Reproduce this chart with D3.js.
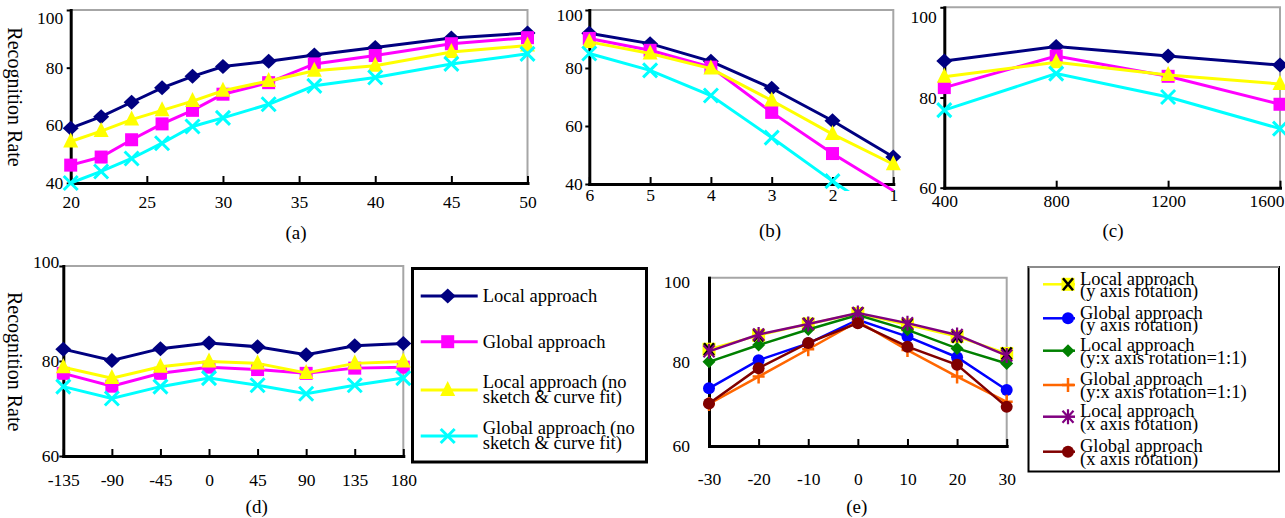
<!DOCTYPE html>
<html>
<head>
<meta charset="utf-8">
<script src="https://cdn.jsdelivr.net/npm/d3@7"></script>
<style>
  body { margin: 0; background: #fff; }
  svg { display: block; }
</style>
</head>
<body>
<div id="chart"></div>
<script>
// ---- data ----
// (a)
let aX = [20, 22, 24, 26, 28, 30, 33, 36, 40, 45, 50];
let aLocal = [59, 63, 68, 73, 77, 80.4, 82.2, 84.4, 87, 90.3, 92];
let aGlobal = [46.2, 49, 55, 60.5, 65.2, 70.8, 74.8, 81.3, 84.2, 88.3, 90.4];
let aLocalNo = [54.4, 58, 62, 65.2, 68.4, 72, 75.4, 78.9, 80.7, 85.4, 87.7];
let aGlobalNo = [40, 44, 48.5, 53.8, 59.6, 62.6, 67.3, 73.7, 76.6, 81.3, 84.8];
let aTicks = [20, 25, 30, 35, 40, 45, 50];
// (b)
let bX = [6, 5, 4, 3, 2, 1];
let bLocal = [92, 88.4, 82.3, 73, 61.8, 49.3];
let bGlobal = [90.2, 86.1, 80.3, 64.7, 50.5, 37.7];
let bLocalNo = [89, 85, 79.8, 68.8, 57.2, 46.8];
let bGlobalNo = [85, 79.2, 70.5, 56, 41, 27];
// (c)
let cX = [400, 800, 1200, 1600];
let cLocal = [88.1, 91.3, 89.2, 87.2];
let cGlobal = [82.2, 89.2, 84.7, 78.5];
let cLocalNo = [84.6, 87.8, 85.0, 83.0];
let cGlobalNo = [77.2, 85.3, 80.1, 73.1];
// (d)
let dX = [-135, -90, -45, 0, 45, 90, 135, 180];
let dLocal = [82.5, 80.1, 82.6, 83.8, 83.0, 81.3, 83.2, 83.7];
let dGlobal = [77.4, 74.7, 77.4, 78.7, 78.2, 77.4, 78.5, 78.7];
let dLocalNo = [78.7, 76.4, 78.8, 79.9, 79.5, 77.5, 79.5, 79.9];
let dGlobalNo = [74.6, 72.1, 74.6, 76.4, 74.9, 73.1, 74.9, 76.4];
// (e)
let eX = [-30, -20, -10, 0, 10, 20, 30];
let eLocalY = [83, 86.3, 89, 91.5, 88.8, 86, 82];
let eGlobalY = [73.7, 80.4, 84.4, 90, 86, 81.1, 73.3];
let eLocalYX = [80, 84, 87.7, 91.1, 87.6, 83.2, 79.6];
let eGlobalYX = [70, 76.5, 83, 89.6, 82.8, 76.5, 70.5];
let eLocalXr = [82.5, 86.5, 89, 91.6, 89.2, 86.4, 81.5];
let eGlobalXr = [70.1, 78.5, 84.5, 89.2, 83.6, 79.3, 69.3];

let yTicksAB = [40, 60, 80, 100];
let yTicksCDE = [60, 80, 100];

let legendD = [["Local approach"], ["Global approach"],
               ["Local approach (no", "sketch & curve fit)"],
               ["Global approach (no", "sketch & curve fit)"]];
let legendE = [["Local approach", "(y axis rotation)"], ["Global approach", "(y axis rotation)"],
               ["Local approach", "(y:x axis rotation=1:1)"], ["Global approach", "(y:x axis rotation=1:1)"],
               ["Local approach", "(x axis rotation)"], ["Global approach", "(x axis rotation)"]];

// ---- styles ----
const W = 1285, H = 518;
const font = "'Liberation Serif','Times New Roman',serif";
const styles4 = [
  {color: "#000080", mark: "diamond"},
  {color: "#ff00ff", mark: "square"},
  {color: "#ffff00", mark: "triangle"},
  {color: "#00ffff", mark: "x"}
];
const styles6 = [
  {color: "#ffff00", mark: "xbox"},
  {color: "#0000ff", mark: "circle"},
  {color: "#008000", mark: "diamondS"},
  {color: "#ff6600", mark: "plus"},
  {color: "#800080", mark: "star"},
  {color: "#800000", mark: "circle"}
];

let svg = d3.select("#chart").append("svg")
  .attr("width", W).attr("height", H)
  .style("background-color", "#fff");

function drawMarker(g, mark, color) {
  if (mark == "diamond") {
    g.append("path").attr("d", "M0,-7.5L8,0L0,7.5L-8,0Z").attr("fill", color);
  } else if (mark == "square") {
    g.append("rect").attr("x", -6.5).attr("y", -6.5).attr("width", 13).attr("height", 13).attr("fill", color);
  } else if (mark == "triangle") {
    g.append("path").attr("d", "M0,-9L7.5,6L-7.5,6Z").attr("fill", color);
  } else if (mark == "x") {
    g.append("path").attr("d", "M-7,-7L7,7M7,-7L-7,7").attr("stroke", color).attr("stroke-width", 3);
  } else if (mark == "circle") {
    g.append("circle").attr("r", 6).attr("fill", color);
  } else if (mark == "diamondS") {
    g.append("path").attr("d", "M0,-6.5L6.5,0L0,6.5L-6.5,0Z").attr("fill", color);
  } else if (mark == "plus") {
    g.append("path").attr("d", "M-6,0H6M0,-7V7").attr("stroke", color).attr("stroke-width", 2.5);
  } else if (mark == "star") {
    g.append("path").attr("d", "M-5.5,-6L5.5,6M5.5,-6L-5.5,6M0,-7.5V7.5").attr("stroke", color).attr("stroke-width", 2.2);
  } else if (mark == "xbox") {
    g.append("rect").attr("x", -6.5).attr("y", -6.5).attr("width", 13).attr("height", 13).attr("fill", color);
    g.append("path").attr("d", "M-5,-6L5,6M5,-6L-5,6").attr("stroke", "#000").attr("stroke-width", 2.5);
  }
}

function panel(cfg) {
  let g = svg.append("g");
  let x = cfg.x, y = cfg.y;
  let [x0, x1] = d3.extent(x.range());
  let yb = y.range()[0], yt = y.range()[1];

  // grey plot-area border on top and right
  g.append("path")
    .attr("d", "M" + x0 + "," + yt + "H" + x1 + "V" + yb)
    .attr("fill", "none").attr("stroke", "#a6a6a6").attr("stroke-width", 2);

  // axes
  let yAxis = d3.axisLeft(y).tickValues(cfg.yTicks).tickSize(4).tickSizeOuter(0).tickPadding(cfg.yPad);
  let yg = g.append("g").attr("transform", "translate(" + x0 + ",0)").call(yAxis);
  let xAxis = d3.axisBottom(x).tickValues(cfg.xTicks).tickSizeInner(-7).tickSizeOuter(0)
    .tickFormat(d => String(d));
  let xg = g.append("g").attr("transform", "translate(0," + yb + ")").call(xAxis);

  [yg, xg].forEach(a => {
    a.attr("font-size", null).attr("font-family", null);
    a.select(".domain").attr("stroke", "#000").attr("stroke-width", 3).attr("stroke-linecap", "square");
    a.selectAll(".tick line").attr("stroke", "#000").attr("stroke-width", 2);
    a.selectAll(".tick text").attr("font-family", font).attr("font-size", 17.5).attr("fill", "#000");
  });
  if (!cfg.yTickMarks) yg.selectAll(".tick line").remove();
  let topV = d3.max(cfg.yTicks);
  yg.selectAll(".tick text").filter(d => d == topV).attr("transform", "translate(0," + cfg.topNudge + ")");
  xg.selectAll(".tick text").attr("y", cfg.xLabOff).attr("dy", "0.35em");
  // keep the last x label inside the picture, as the reference does
  xg.selectAll(".tick text").each(function (d) {
    let half = this.getComputedTextLength() / 2;
    let over = x(d) + half - W + 1;
    if (over > 0) d3.select(this).attr("x", -over);
  });

  // clip lines to plot area (a little slack at the bottom)
  let clipId = "clip" + cfg.id;
  svg.append("clipPath").attr("id", clipId).append("rect")
    .attr("x", x0 - 10).attr("y", yt).attr("width", x1 - x0 + 20).attr("height", yb - yt + 7);

  let line = d3.line().x(d => x(d[0])).y(d => y(d[1]));
  cfg.series.forEach((vals, i) => {
    let st = cfg.styles[i];
    let pts = cfg.xs.map((xv, k) => [xv, vals[k]]);
    g.append("path").datum(pts)
      .attr("d", line)
      .attr("fill", "none")
      .attr("stroke", st.color)
      .attr("stroke-width", cfg.lw)
      .attr("clip-path", "url(#" + clipId + ")");
    g.selectAll(".m" + i).data(pts.filter(p => p[1] >= y.domain()[0]))
      .enter().append("g")
      .attr("class", "m" + i)
      .attr("transform", d => "translate(" + x(d[0]) + "," + y(d[1]) + ")")
      .each(function () { drawMarker(d3.select(this), st.mark, st.color); });
  });

  // panel caption
  g.append("text").text(cfg.caption)
    .attr("x", cfg.capX).attr("y", cfg.capY).attr("dy", "0.35em")
    .attr("text-anchor", "middle")
    .attr("font-family", font).attr("font-size", 19);
}

function yTitle(cy) {
  svg.append("text").text("Recognition Rate")
    .attr("transform", "translate(15," + cy + ") rotate(90)")
    .attr("text-anchor", "middle").attr("dy", "0.35em")
    .attr("font-family", font).attr("font-size", 20);
}

panel({
  id: "a", caption: "(a)", capX: 296, capY: 232,
  x: d3.scaleLinear().domain([20, 50]).range([70.7, 527.5]),
  y: d3.scaleLinear().domain([40, 100]).range([183, 10]),
  xs: aX, xTicks: aTicks, yTicks: yTicksAB, yPad: 3.5, topNudge: 8, xLabOff: 18.5, yTickMarks: true,
  series: [aLocal, aGlobal, aLocalNo, aGlobalNo], styles: styles4, lw: 3
});
panel({
  id: "b", caption: "(b)", capX: 770, capY: 230,
  x: d3.scaleLinear().domain([6, 1]).range([589.3, 893.3]),
  y: d3.scaleLinear().domain([40, 100]).range([184, 10]),
  xs: bX, xTicks: bX, yTicks: yTicksAB, yPad: 2.5, topNudge: 5, xLabOff: 11, yTickMarks: true,
  series: [bLocal, bGlobal, bLocalNo, bGlobalNo], styles: styles4, lw: 3
});
panel({
  id: "c", caption: "(c)", capX: 1113, capY: 230,
  x: d3.scaleLinear().domain([400, 1600]).range([944.3, 1280]),
  y: d3.scaleLinear().domain([60, 100]).range([187.7, 7.3]),
  xs: cX, xTicks: cX, yTicks: yTicksCDE, yPad: 3.5, topNudge: 10, xLabOff: 13.5, yTickMarks: true,
  series: [cLocal, cGlobal, cLocalNo, cGlobalNo], styles: styles4, lw: 3
});
panel({
  id: "d", caption: "(d)", capX: 256.7, capY: 506.7,
  x: d3.scaleLinear().domain([-135, 180]).range([63.3, 403.3]),
  y: d3.scaleLinear().domain([60, 100]).range([456, 266]),
  xs: dX, xTicks: dX, yTicks: yTicksCDE, yPad: 0, topNudge: -4, xLabOff: 24, yTickMarks: true,
  series: [dLocal, dGlobal, dLocalNo, dGlobalNo], styles: styles4, lw: 3
});
panel({
  id: "e", caption: "(e)", capX: 856.7, capY: 506.7,
  x: d3.scaleLinear().domain([-30, 30]).range([709, 1006.7]),
  y: d3.scaleLinear().domain([60, 100]).range([446, 277.7]),
  xs: eX, xTicks: eX, yTicks: yTicksCDE, yPad: 15, topNudge: 4, xLabOff: 33, yTickMarks: false,
  series: [eLocalY, eGlobalY, eLocalYX, eGlobalYX, eLocalXr, eGlobalXr], styles: styles6, lw: 2.5
});

yTitle(97);
yTitle(361.7);

// legend for (a)-(d)
let legD = svg.append("g");
legD.append("rect").attr("x", 412.5).attr("y", 268.5).attr("width", 234).attr("height", 193.5)
  .attr("fill", "#fff").attr("stroke", "#000").attr("stroke-width", 3);
let legDY = [296, 341.7, 390, 436];
legendD.forEach((lines, i) => {
  let row = legD.append("g").attr("transform", "translate(0," + legDY[i] + ")");
  row.append("line").attr("x1", 420.7).attr("x2", 477.7)
    .attr("stroke", styles4[i].color).attr("stroke-width", 3);
  drawMarker(row.append("g").attr("transform", "translate(447.7,0)"), styles4[i].mark, styles4[i].color);
  lines.forEach((t, k) => {
    row.append("text").text(t)
      .attr("x", 482.7).attr("y", (k - (lines.length - 1) / 2) * 15 - (lines.length > 1 ? 1 : 0))
      .attr("dy", "0.35em")
      .attr("font-family", font).attr("font-size", 18.5);
  });
});

// legend for (e)
let legE = svg.append("g");
legE.append("rect").attr("x", 1028.5).attr("y", 267).attr("width", 250.5).attr("height", 204.5)
  .attr("fill", "#fff").attr("stroke", "#000").attr("stroke-width", 2);
legE.append("line").attr("x1", 1028.5).attr("x2", 1279).attr("y1", 267).attr("y2", 267)
  .attr("stroke", "#8c8c8c").attr("stroke-width", 2);
let legEY = [284.3, 318.3, 350.7, 385, 416.7, 451.7];
legendE.forEach((lines, i) => {
  let row = legE.append("g").attr("transform", "translate(0," + legEY[i] + ")");
  row.append("line").attr("x1", 1043).attr("x2", 1075)
    .attr("stroke", styles6[i].color).attr("stroke-width", 2.5);
  drawMarker(row.append("g").attr("transform", "translate(1068,0)"), styles6[i].mark, styles6[i].color);
  lines.forEach((t, k) => {
    row.append("text").text(t)
      .attr("x", 1080).attr("y", k == 0 ? -6 : 6.5)
      .attr("dy", "0.35em")
      .attr("font-family", font).attr("font-size", 18.5);
  });
});
</script>
</body>
</html>
